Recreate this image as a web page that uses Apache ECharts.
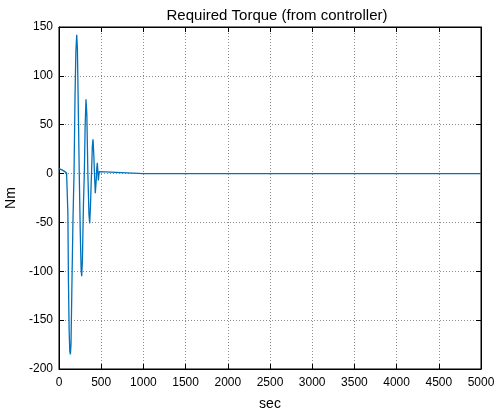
<!DOCTYPE html>
<html>
<head>
<meta charset="utf-8">
<script src="https://cdn.jsdelivr.net/npm/echarts@6/dist/echarts.min.js"></script>
<style>
  html, body { margin: 0; padding: 0; background: #fff; }
  #chart { width: 495px; height: 411px; }
</style>
</head>
<body>
<div id="chart"></div>
<script>
// Time samples (sec) and required torque (Nm) from the controller
const timeSec = [0, 30, 60, 90, 100, 105, 112, 120, 128, 135, 142, 152, 165, 178, 190, 200, 210, 218, 228, 240,
  252, 262, 269, 277, 290, 300, 310, 320, 330, 342, 355, 364, 374, 385, 395, 403, 412, 420, 430, 440,
  448, 454, 460, 466, 472, 478, 485, 500, 1000, 2000, 3000, 4000, 5000];
const torqueNm = [5, 4, 2.5, 0.5, 0, -40, -110, -160, -182, -185, -175, -120, -50, 0, 80, 125, 142, 128, 70, 0,
  -60, -98, -105, -90, -30, 0, 50, 76, 60, 0, -42, -51, -30, 0, 28, 35, 20, 0, -20, -8,
  6, 11, 3, -7, -2, 2, 0, 0, 0, 0, 0, 0, 0];
const xTicks = [0, 500, 1000, 1500, 2000, 2500, 3000, 3500, 4000, 4500, 5000];
const yTicks = [-200, -150, -100, -50, 0, 50, 100, 150];

const font = 'Liberation Sans, Arial, sans-serif';
const chart = echarts.init(document.getElementById('chart'), null, { renderer: 'canvas' });

const gridLine = { show: true, lineStyle: { color: '#8c8c8c', type: [1, 2], width: 1 } };
const tickIn = { show: true, inside: true, length: 5, lineStyle: { color: '#000' } };

chart.setOption({
  backgroundColor: '#fff',
  animation: false,
  title: {
    text: 'Required Torque (from controller)',
    left: 272, top: 3, textAlign: 'center',
    textStyle: { fontFamily: font, fontSize: 15, fontWeight: 'normal', color: '#000' }
  },
  grid: {
    left: 59, right: 14, top: 27, bottom: 42,
    containLabel: false, outerBoundsMode: 'none',
    show: true, borderColor: '#000', borderWidth: 1
  },
  xAxis: [{
    type: 'value', min: xTicks[0], max: xTicks[xTicks.length - 1], interval: 500,
    name: 'sec', nameLocation: 'middle', nameGap: 28,
    nameTextStyle: { fontFamily: font, fontSize: 14, color: '#000' },
    axisLine: { show: true, onZero: false, lineStyle: { color: '#000' } },
    axisTick: tickIn,
    axisLabel: { fontFamily: font, fontSize: 12, color: '#000', margin: 8, formatter: v => String(v) },
    splitLine: gridLine
  }, {
    type: 'value', position: 'top', min: xTicks[0], max: xTicks[xTicks.length - 1], interval: 500,
    axisLine: { show: true, onZero: false, lineStyle: { color: '#000' } },
    axisTick: tickIn, axisLabel: { show: false }, splitLine: { show: false }
  }],
  yAxis: [{
    type: 'value', min: yTicks[0], max: yTicks[yTicks.length - 1], interval: 50,
    name: 'Nm', nameLocation: 'middle', nameGap: 38,
    nameTextStyle: { fontFamily: font, fontSize: 14, color: '#000' },
    axisLine: { show: true, onZero: false, lineStyle: { color: '#000' } },
    axisTick: tickIn,
    axisLabel: { fontFamily: font, fontSize: 12, color: '#000', margin: 6, formatter: v => String(v) },
    splitLine: gridLine
  }, {
    type: 'value', position: 'right', min: yTicks[0], max: yTicks[yTicks.length - 1], interval: 50,
    axisLine: { show: true, onZero: false, lineStyle: { color: '#000' } },
    axisTick: tickIn, axisLabel: { show: false }, splitLine: { show: false }
  }],
  series: [{
    type: 'line',
    data: timeSec.map((t, i) => [t, torqueNm[i]]),
    showSymbol: false,
    lineStyle: { color: '#0072BD', width: 1.3 },
    itemStyle: { color: '#0072BD' }
  }]
});
</script>
</body>
</html>
